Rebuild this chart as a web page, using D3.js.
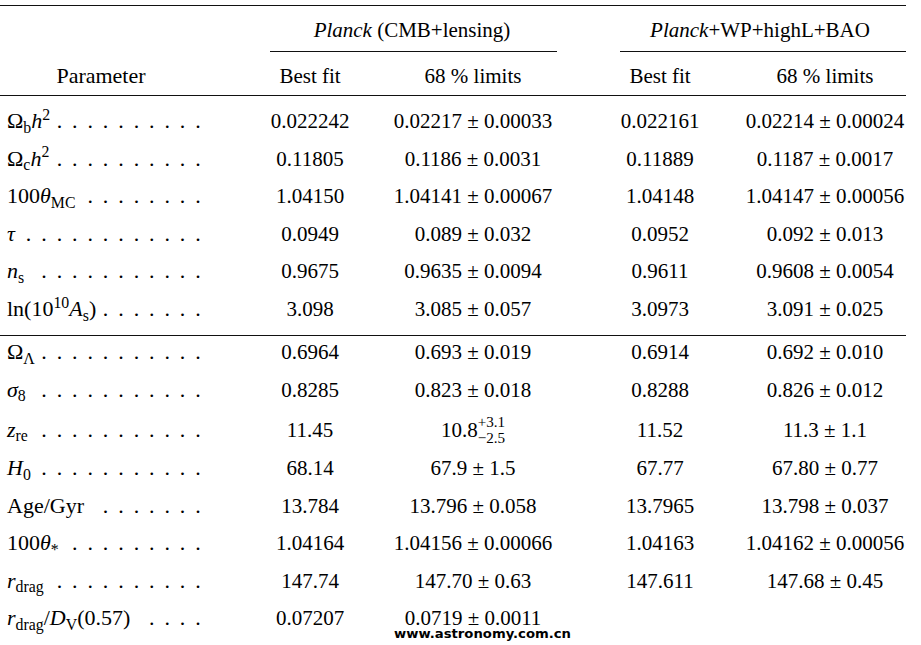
<!DOCTYPE html>
<html>
<head>
<meta charset="utf-8">
<script src="https://cdn.jsdelivr.net/npm/d3@7"></script>
<style>
  body { margin: 0; background: #fff; }
  text { font-family: "Liberation Serif", "Times New Roman", serif; fill: #000; }
  .wm { font-family: "DejaVu Sans", sans-serif; font-weight: bold; fill: #000; }
</style>
</head>
<body>
<svg width="921" height="645"></svg>
<script>
// little markup: $..$ italic, _{..} subscript, ^{..} superscript
var params = [
  "Ω_{b}$h$^{2}", "Ω_{c}$h$^{2}", "100$θ$_{MC}", "$τ$", "$n$_{s}", "ln(10^{10}$A$_{s})",
  "Ω_{Λ}", "$σ$_{8}", "$z$_{re}", "$H$_{0}", "Age/Gyr", "100$θ$_{*}", "$r$_{drag}", "$r$_{drag}/$D$_{V}(0.57)"
];
var lensBest = ["0.022242", "0.11805", "1.04150", "0.0949", "0.9675", "3.098",
  "0.6964", "0.8285", "11.45", "68.14", "13.784", "1.04164", "147.74", "0.07207"];
var lensMean = ["0.02217", "0.1186", "1.04141", "0.089", "0.9635", "3.085",
  "0.693", "0.823", "10.8", "67.9", "13.796", "1.04156", "147.70", "0.0719"];
var lensErr = ["0.00033", "0.0031", "0.00067", "0.032", "0.0094", "0.057",
  "0.019", "0.018", ["+3.1", "−2.5"], "1.5", "0.058", "0.00066", "0.63", "0.0011"];
var baoBest = ["0.022161", "0.11889", "1.04148", "0.0952", "0.9611", "3.0973",
  "0.6914", "0.8288", "11.52", "67.77", "13.7965", "1.04163", "147.611", null];
var baoMean = ["0.02214", "0.1187", "1.04147", "0.092", "0.9608", "3.091",
  "0.692", "0.826", "11.3", "67.80", "13.798", "1.04162", "147.68", null];
var baoErr = ["0.00024", "0.0017", "0.00056", "0.013", "0.0054", "0.025",
  "0.010", "0.012", "1.1", "0.77", "0.037", "0.00056", "0.45", null];

var groupTitles = ["$Planck$ (CMB+lensing)", "$Planck$+WP+highL+BAO"];
var colTitles = ["Best fit", "68 % limits", "Best fit", "68 % limits"];
var colKeys = ["lensBest", "lensLim", "baoBest", "baoLim"];
var watermark = "www.astronomy.com.cn";

var svg = d3.select("svg");
var FS = 21, LFS = 22;

var x = d3.scaleOrdinal().domain(colKeys).range([310, 473, 660, 825]);
var gx = d3.scaleOrdinal().domain(groupTitles).range([412, 760]);
var y = d3.scaleLinear().domain([0, 1]).range([128, 165.6]);

// second block sits a bit lower, and the z_re row is taller
function rowY(i) {
  return y(i) + (i >= 6 ? 5.4 : 0) + (i == 8 ? 2.4 : i > 8 ? 3.2 : 0);
}

function rich(sel, markup, size) {
  var re = /\$([^$]+)\$|_\{([^}]*)\}|\^\{([^}]*)\}|([^$_^]+)/g, m, shift = 0;
  while ((m = re.exec(markup))) {
    var target = m[2] != null ? 4.5 : m[3] != null ? -8.5 : 0;
    var t = sel.append("tspan").attr("dy", target - shift);
    shift = target;
    if (m[1] != null) t.style("font-style", "italic").text(m[1]);
    else if (m[2] != null) t.style("font-size", size * 0.72 + "px").text(m[2]);
    else if (m[3] != null) t.style("font-size", size * 0.72 + "px").text(m[3]);
    else t.text(m[4]);
  }
  return sel;
}

// rules
var rules = [
  [0, 906, 4.5], [270, 557, 50.5], [620, 906, 50.5], [0, 906, 94.5], [0, 906, rowY(5) + 18.5]
];
svg.selectAll("line.rule").data(rules).enter().append("line")
  .attr("class", "rule")
  .attr("x1", d => d[0]).attr("x2", d => d[1])
  .attr("y1", d => Math.round(d[2]) + 0.5).attr("y2", d => Math.round(d[2]) + 0.5)
  .attr("stroke", "#111").attr("stroke-width", 1.2);

// headers
svg.selectAll("text.group").data(groupTitles).enter().append("text")
  .attr("class", "group")
  .attr("x", d => gx(d)).attr("y", 37)
  .attr("text-anchor", "middle").style("font-size", FS + "px")
  .each(function (d) { rich(d3.select(this), d, FS); });

svg.append("text").attr("x", 101).attr("y", 83)
  .attr("text-anchor", "middle").style("font-size", LFS + "px").text("Parameter");

svg.selectAll("text.col").data(colTitles).enter().append("text")
  .attr("class", "col")
  .attr("x", (d, i) => x(colKeys[i])).attr("y", 83)
  .attr("text-anchor", "middle").style("font-size", FS + "px").text(d => d);

// parameter labels with dot leaders on a fixed grid
var dotEnd = 198, dotStep = 15.4;
params.forEach(function (p, i) {
  var t = svg.append("text").attr("x", 7).attr("y", rowY(i)).style("font-size", LFS + "px");
  rich(t, p, LFS);
  var bb = t.node().getBBox();
  var end = bb.x + bb.width;
  var dots = d3.range(0, 14).map(k => dotEnd - k * dotStep).filter(v => v - end >= 8);
  svg.selectAll(null).data(dots).enter().append("text")
    .attr("x", d => d).attr("y", rowY(i))
    .attr("text-anchor", "middle").style("font-size", LFS + "px").text(".");
});

function cells(key, vals) {
  vals.forEach(function (v, i) {
    if (v == null) return;
    svg.append("text").attr("x", x(key)).attr("y", rowY(i))
      .attr("text-anchor", "middle").style("font-size", FS + "px").text(v);
  });
}

function limits(key, means, errs) {
  means.forEach(function (m, i) {
    if (m == null) return;
    var e = errs[i];
    if (Array.isArray(e)) {
      // asymmetric errors: stacked super/subscript
      var g = svg.append("g");
      var main = g.append("text").style("font-size", FS + "px").text(m);
      var w = main.node().getComputedTextLength();
      var up = g.append("text").attr("x", w).attr("y", -10).style("font-size", FS * 0.72 + "px").text(e[0]);
      var dn = g.append("text").attr("x", w).attr("y", 6).style("font-size", FS * 0.72 + "px").text(e[1]);
      var tot = w + Math.max(up.node().getComputedTextLength(), dn.node().getComputedTextLength());
      g.attr("transform", "translate(" + (x(key) - tot / 2) + "," + rowY(i) + ")");
    } else {
      svg.append("text").attr("x", x(key)).attr("y", rowY(i))
        .attr("text-anchor", "middle").style("font-size", FS + "px")
        .text(m + " ± " + e);
    }
  });
}

cells("lensBest", lensBest);
limits("lensLim", lensMean, lensErr);
cells("baoBest", baoBest);
limits("baoLim", baoMean, baoErr);

svg.append("text").attr("class", "wm")
  .attr("x", 394).attr("y", 638)
  .attr("textLength", 177).attr("lengthAdjust", "spacingAndGlyphs")
  .style("font-size", "11.5px").text(watermark);
</script>
</body>
</html>
